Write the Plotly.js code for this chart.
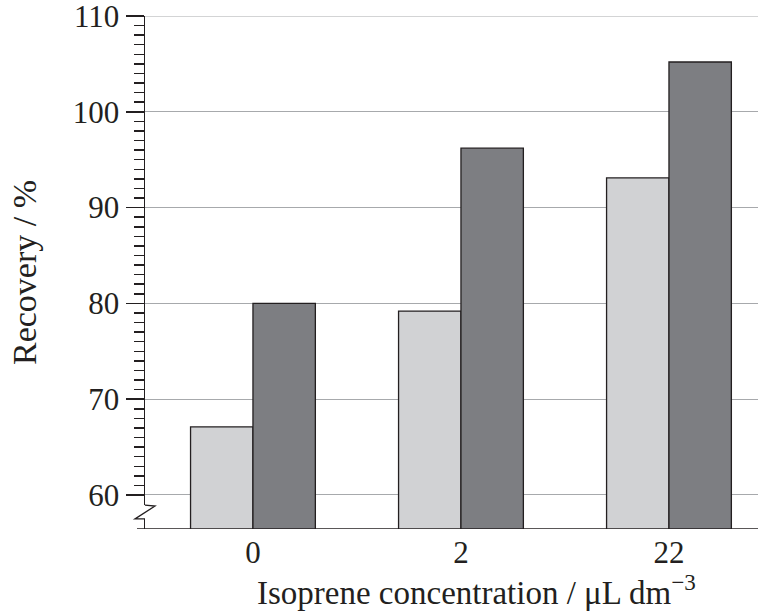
<!DOCTYPE html>
<html>
<head>
<meta charset="utf-8">
<script src="https://cdn.plot.ly/plotly-3.0.1.min.js"></script>
<style>html,body{margin:0;padding:0;background:#fff}#chart{width:758px;height:611px}</style>
</head>
<body>
<div id="chart"></div>
<script>
const categories = ['0', '2', '22'];
const seriesA = [67.1, 79.2, 93.1];
const seriesB = [80.0, 96.2, 105.2];

const catPos = categories.map((c, i) => i);
const FONT = 'Liberation Serif, Times New Roman, serif';
const FS = 31;
const TFS = 33;
const yMin = 56.45, yMax = 110;

const minorVals = [];
for (let v = 61; v < 110; v++) if (v % 10 !== 0) minorVals.push(v);

const traces = [
  {type: 'bar', x: catPos, y: seriesA, base: 0, name: 'A',
   marker: {color: '#d1d2d4', line: {color: '#231f20', width: 1.3}}},
  {type: 'bar', x: catPos, y: seriesB, base: 0, name: 'B',
   marker: {color: '#7d7e82', line: {color: '#231f20', width: 1.3}}}
];

const px = p => p / 613;

const layout = {
  width: 758, height: 611,
  margin: {l: 145, r: 0, t: 16, b: 82, pad: 0},
  paper_bgcolor: '#fff', plot_bgcolor: '#fff',
  showlegend: false,
  barmode: 'group', bargap: 0.4, bargroupgap: 0,
  font: {family: FONT, size: FS, color: '#231f20'},
  xaxis: {
    range: [-0.519, 2.428], tickmode: 'array', tickvals: catPos, ticktext: categories,
    showgrid: false, zeroline: false, showline: false, ticks: '',
    tickfont: {family: FONT, size: FS, color: '#231f20'},
    ticklabelstandoff: 2
  },
  yaxis: {
    range: [yMin, yMax], tickmode: 'array', tickvals: [60, 70, 80, 90, 100, 110],
    ticks: 'outside', ticklen: 18, tickwidth: 1.5, tickcolor: '#231f20',
    ticklabeloverflow: 'allow',
    showline: true, linecolor: '#231f20', linewidth: 1.5,
    showgrid: true, gridcolor: '#a7a9ac', gridwidth: 1, zeroline: false,
    tickfont: {family: FONT, size: FS, color: '#231f20'},
    minor: {tickmode: 'array', tickvals: minorVals, ticks: 'outside', ticklen: 10, tickwidth: 1.5, tickcolor: '#231f20', showgrid: false},
    title: {text: 'Recovery / %', font: {family: FONT, size: 34, color: '#231f20'}, standoff: 26}
  },
  annotations: [
    {text: 'Isoprene concentration / μL dm<sup>−3</sup>', xref: 'paper', yref: 'paper',
     x: px(331), y: -61/513, xanchor: 'center', yanchor: 'middle', showarrow: false,
     font: {family: FONT, size: TFS, color: '#231f20'}}
  ],
  shapes: [
    {type: 'line', xref: 'paper', yref: 'y', x0: 0, x1: 1, y0: yMax, y1: yMax,
     line: {color: '#a7a9ac', width: 1}, layer: 'below'},
    {type: 'line', xref: 'paper', yref: 'y', x0: px(-8), x1: 1, y0: yMin, y1: yMin,
     line: {color: '#231f20', width: 1.5}, layer: 'above'},
    {type: 'rect', xref: 'paper', yref: 'y', x0: px(-6), x1: px(6), y0: 57.5, y1: 58.95,
     fillcolor: '#fff', line: {width: 0}, layer: 'above'},
    {type: 'path', xref: 'paper', yref: 'y',
     path: `M ${px(0)},58.95 L ${px(10)},58.85 L ${px(-10)},57.5 L ${px(0)},57.5`,
     line: {color: '#231f20', width: 1.3}, layer: 'above'}
  ]
};

Plotly.newPlot('chart', traces, layout, {displayModeBar: false, staticPlot: true});
</script>
</body>
</html>
